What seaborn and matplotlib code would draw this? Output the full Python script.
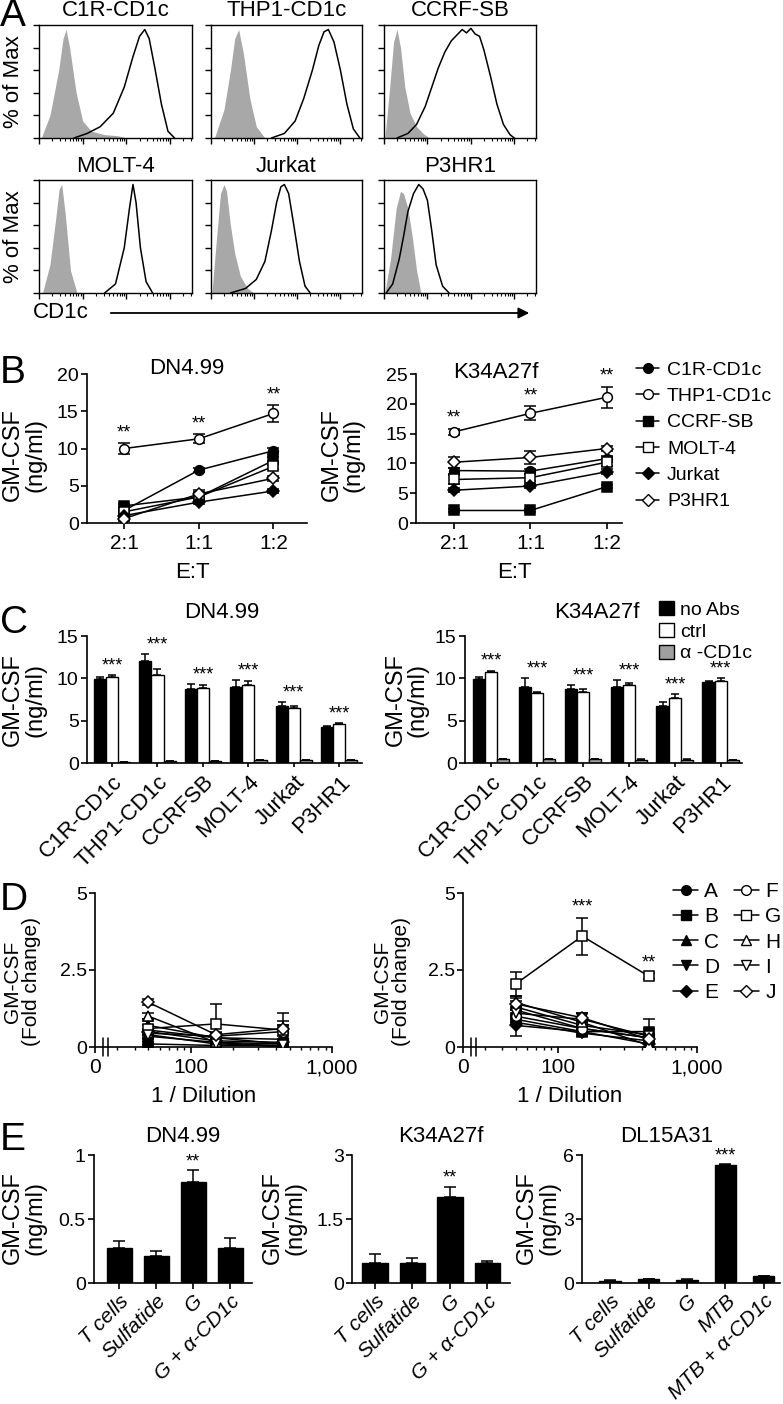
import numpy as np
import pandas as pd
import matplotlib
matplotlib.use('Agg')
import matplotlib.pyplot as plt
import matplotlib.transforms as mtransforms
from matplotlib.lines import Line2D
from matplotlib.patches import Patch
import seaborn as sns

W, H = 783, 1404

# ---------------- A: CD1c staining histograms (x in decades, y in % of max)
hist_titles = ['C1R-CD1c', 'THP1-CD1c', 'CCRF-SB', 'MOLT-4', 'Jurkat', 'P3HR1']

c1r_iso_x = [0.05, 0.25, 0.45, 0.55, 0.62, 0.7, 0.85, 1.0, 1.2, 1.5, 1.8, 2.0]
c1r_iso_y = [0, 20, 60, 88, 96, 80, 40, 15, 6, 3, 2, 0]
c1r_cd1c_x = [0.8, 1.1, 1.4, 1.7, 1.95, 2.15, 2.3, 2.42, 2.52, 2.65, 2.8, 2.95, 3.1]
c1r_cd1c_y = [0, 4, 10, 22, 45, 72, 90, 96, 88, 62, 30, 6, 0]

thp1_iso_x = [0.08, 0.3, 0.45, 0.55, 0.64, 0.75, 0.9, 1.05, 1.25]
thp1_iso_y = [0, 25, 60, 88, 96, 75, 35, 10, 0]
thp1_cd1c_x = [1.4, 1.7, 1.95, 2.15, 2.35, 2.5, 2.62, 2.72, 2.85, 3.0, 3.15, 3.3, 3.45]
thp1_cd1c_y = [0, 4, 15, 35, 60, 82, 94, 96, 85, 60, 30, 8, 0]

ccrf_iso_x = [0.02, 0.12, 0.22, 0.3, 0.38, 0.48, 0.6, 0.75, 0.9, 1.05]
ccrf_iso_y = [0, 40, 85, 96, 80, 45, 22, 10, 4, 0]
ccrf_cd1c_x = [0.3, 0.55, 0.75, 0.95, 1.1, 1.25, 1.4, 1.55, 1.7, 1.8, 1.9, 2.0,
               2.1, 2.2, 2.3, 2.45, 2.6, 2.75, 2.9, 3.0]
ccrf_cd1c_y = [0, 4, 12, 28, 45, 62, 76, 86, 92, 96, 93, 97, 92, 90, 78, 55, 30, 12, 3, 0]

molt_iso_x = [0.08, 0.25, 0.38, 0.46, 0.52, 0.6, 0.72, 0.87]
molt_iso_y = [0, 25, 65, 92, 96, 70, 20, 0]
molt_cd1c_x = [1.5, 1.75, 1.95, 2.07, 2.15, 2.22, 2.32, 2.45, 2.6]
molt_cd1c_y = [0, 8, 40, 75, 96, 80, 40, 10, 0]

jurkat_iso_x = [0.02, 0.12, 0.22, 0.3, 0.36, 0.45, 0.55, 0.68, 0.85, 1.0]
jurkat_iso_y = [0, 45, 88, 96, 90, 60, 35, 15, 4, 0]
jurkat_cd1c_x = [0.45, 0.8, 1.05, 1.25, 1.4, 1.52, 1.62, 1.7, 1.8, 1.92, 2.05, 2.18, 2.3]
jurkat_cd1c_y = [0, 4, 12, 28, 55, 80, 94, 96, 88, 60, 28, 6, 0]

p3hr1_iso_x = [0.02, 0.15, 0.28, 0.38, 0.45, 0.55, 0.65, 0.75, 0.85]
p3hr1_iso_y = [0, 30, 75, 90, 88, 75, 50, 20, 0]
p3hr1_cd1c_x = [0.05, 0.2, 0.35, 0.45, 0.55, 0.68, 0.8, 0.9, 1.0, 1.1, 1.2, 1.35, 1.5]
p3hr1_cd1c_y = [0, 8, 30, 50, 72, 88, 96, 92, 82, 55, 25, 6, 0]

# ---------------- B: GM-CSF vs E:T ratio
et_labels = ['2:1', '1:1', '1:2']
b_names = ['C1R-CD1c', 'THP1-CD1c', 'CCRF-SB', 'MOLT-4', 'Jurkat', 'P3HR1']
b_markers = ['o', 'o', 's', 's', 'D', 'D']
b_filled = [True, False, True, False, True, False]
b1_vals = [[1.7, 7.1, 9.7], [10.0, 11.3, 14.7], [2.3, 3.5, 8.4],
           [1.5, 3.5, 7.6], [1.0, 2.8, 4.3], [0.6, 3.9, 6.0]]
b1_errs = [[0.2, 0.3, 0.4], [0.7, 0.6, 1.1], [0.2, 0.3, 0.4],
           [0.3, 0.3, 0.4], [0.2, 0.3, 0.3], [0.3, 0.5, 0.3]]
b2_vals = [[8.8, 8.7, 10.8], [15.3, 18.4, 21.1], [2.1, 2.1, 6.1],
           [7.3, 7.6, 10.2], [5.5, 6.2, 8.6], [10.2, 11.0, 12.5]]
b2_errs = [[0.5, 0.4, 0.5], [0.5, 1.2, 1.8], [0.2, 0.2, 0.3],
           [0.8, 0.6, 0.6], [0.3, 0.3, 0.4], [0.9, 1.1, 0.4]]

# ---------------- C: blocking with anti-CD1c
c_lines = ['C1R-CD1c', 'THP1-CD1c', 'CCRFSB', 'MOLT-4', 'Jurkat', 'P3HR1']
c_conds = ['no Abs', 'ctrl', 'α -CD1c']
c1_noabs = [9.9, 12.0, 8.7, 9.0, 6.7, 4.3]
c1_noabs_err = [0.3, 0.9, 0.6, 0.8, 0.5, 0.1]
c1_ctrl = [10.2, 10.4, 8.8, 9.2, 6.5, 4.6]
c1_ctrl_err = [0.2, 0.7, 0.4, 0.5, 0.2, 0.1]
c1_anti = [0.1, 0.2, 0.2, 0.3, 0.3, 0.3]
c2_noabs = [9.9, 9.0, 8.7, 9.0, 6.7, 9.6]
c2_noabs_err = [0.2, 1.0, 0.5, 0.8, 0.5, 0.1]
c2_ctrl = [10.7, 8.3, 8.4, 9.2, 7.7, 9.7]
c2_ctrl_err = [0.2, 0.05, 0.3, 0.2, 0.4, 0.3]
c2_anti = [0.5, 0.5, 0.5, 0.4, 0.4, 0.3]

# ---------------- D: lipid fraction titration (fold change)
dilutions = [50, 150, 450]
d_names = ['A', 'B', 'C', 'D', 'E', 'F', 'G', 'H', 'I', 'J']
d_markers = ['o', 's', '^', 'v', 'D', 'o', 's', '^', 'v', 'D']
d_filled = [True, True, True, True, True, False, False, False, False, False]
d1_vals = [[0.55, 0.3, 0.25], [0.1, 0.05, 0.05], [0.7, 0.3, 0.1], [0.35, 0.15, 0.1],
           [0.5, 0.2, 0.15], [0.45, 0.35, 0.5], [0.6, 0.75, 0.55], [1.0, 0.15, 0.0],
           [0.4, 0.1, 0.05], [1.45, 0.4, 0.6]]
d1_errs = [[0.15, 0.1, 0.1], [0.05, 0.05, 0.05], [0.15, 0.1, 0.05], [0.1, 0.05, 0.05],
           [0.1, 0.1, 0.1], [0.1, 0.1, 0.6], [0.3, 0.65, 0.3], [0.1, 0.1, 0.05],
           [0.1, 0.05, 0.05], [0.1, 0.1, 0.1]]
d2_vals = [[1.3, 0.7, 0.4], [0.9, 0.5, 0.5], [1.2, 0.6, 0.3], [0.8, 0.45, 0.2],
           [0.7, 0.5, 0.1], [1.0, 0.6, 0.3], [2.05, 3.6, 2.3], [1.45, 0.8, 0.05],
           [1.1, 0.9, 0.35], [1.4, 0.95, 0.25]]
d2_errs = [[0.2, 0.1, 0.5], [0.1, 0.1, 0.1], [0.2, 0.1, 0.1], [0.1, 0.1, 0.1],
           [0.35, 0.1, 0.1], [0.2, 0.1, 0.1], [0.4, 0.6, 0.1], [0.2, 0.1, 0.05],
           [0.2, 0.2, 0.1], [0.2, 0.15, 0.1]]

# ---------------- E: fraction G response
e1_labels = ['T cells', 'Sulfatide', 'G', 'G + α-CD1c']
e1_vals = [0.27, 0.213, 0.787, 0.27]
e1_errs = [0.055, 0.037, 0.096, 0.08]
e2_labels = ['T cells', 'Sulfatide', 'G', 'G + α-CD1c']
e2_vals = [0.48, 0.47, 2.01, 0.47]
e2_errs = [0.2, 0.11, 0.25, 0.05]
e3_labels = ['T cells', 'Sulfatide', 'G', 'MTB', 'MTB + α-CD1c']
e3_vals = [0.11, 0.19, 0.16, 5.53, 0.31]
e3_errs = [0.01, 0.02, 0.02, 0.04, 0.02]

# ---------------------------------------------------------------- style
sns.set_style('ticks')
plt.rcParams['font.family'] = ['Liberation Sans', 'DejaVu Sans']
plt.rcParams['axes.linewidth'] = 1.2
plt.rcParams['xtick.major.width'] = 1.2
plt.rcParams['ytick.major.width'] = 1.2
plt.rcParams['xtick.major.size'] = 4
plt.rcParams['ytick.major.size'] = 4
plt.rcParams['xtick.labelsize'] = 14
plt.rcParams['ytick.labelsize'] = 14
plt.rcParams['xtick.major.pad'] = 2
plt.rcParams['ytick.major.pad'] = 2
plt.rcParams['text.color'] = 'black'
plt.rcParams['xtick.color'] = 'black'
plt.rcParams['ytick.color'] = 'black'
plt.rcParams['axes.edgecolor'] = 'black'

fig = plt.figure(figsize=(W / 100, H / 100), dpi=100)


def add_ax(l, t, r, b):
    return fig.add_axes([l / W, 1 - b / H, (r - l) / W, (b - t) / H])


def ftext(x, y, s, **kw):
    fig.text(x / W, 1 - y / H, s, **kw)


def prism(ax):
    sns.despine(ax=ax)
    ax.set_xlabel('')
    ax.set_ylabel('')


def stars(ax, x, top, s):
    ax.annotate(s, xy=(x, top), xytext=(0, 1), textcoords='offset points',
                ha='center', va='baseline', fontsize=13)


# panel letters
for letter, y in zip('ABCDE', [16, 373, 623, 900, 1140]):
    ftext(0, y, letter, fontsize=28, ha='left', va='center')

# ---------------------------------------------------------------- A
iso_x = [c1r_iso_x, thp1_iso_x, ccrf_iso_x, molt_iso_x, jurkat_iso_x, p3hr1_iso_x]
iso_y = [c1r_iso_y, thp1_iso_y, ccrf_iso_y, molt_iso_y, jurkat_iso_y, p3hr1_iso_y]
cd1c_x = [c1r_cd1c_x, thp1_cd1c_x, ccrf_cd1c_x, molt_cd1c_x, jurkat_cd1c_x, p3hr1_cd1c_x]
cd1c_y = [c1r_cd1c_y, thp1_cd1c_y, ccrf_cd1c_y, molt_cd1c_y, jurkat_cd1c_y, p3hr1_cd1c_y]
cols = [(39, 192), (211, 362), (384, 536)]
rows = [(25, 138), (180, 293)]
minor = [d + np.log10(k) for d in range(4) for k in range(2, 10) if d + np.log10(k) < 3.5]
for i in range(6):
    l, r = cols[i % 3]
    t, b = rows[i // 3]
    ax = add_ax(l, t, r, b)
    ax.fill_between(iso_x[i], iso_y[i], color='#a8a8a8', lw=0)
    sns.lineplot(x=cd1c_x[i], y=cd1c_y[i], ax=ax, color='black', lw=1.1, sort=False)
    ax.set_xlim(0, 3.5)
    ax.set_ylim(0, 100)
    ax.set_xticks([0, 1, 2, 3])
    ax.set_xticks(minor, minor=True)
    ax.set_yticks(range(0, 101, 20))
    ax.tick_params(labelbottom=False, labelleft=False, length=4, width=1)
    ax.tick_params(which='minor', length=2, width=0.8, bottom=True)
    for sp in ax.spines.values():
        sp.set_linewidth(1.0)
    ax.set_xlabel('')
    ax.set_ylabel('')
    ftext((l + r) / 2, 10 if i < 3 else 166, hist_titles[i], fontsize=16,
          ha='center', va='center')
for t, b in rows:
    ftext(14, (t + b) / 2, '% of Max', fontsize=16, rotation=90, ha='center', va='center')
ftext(33, 313, 'CD1c', fontsize=16, ha='left', va='center')
fig.add_artist(matplotlib.patches.FancyArrowPatch(
    (108 / W, 1 - 313 / H), (532 / W, 1 - 313 / H), transform=fig.transFigure,
    arrowstyle='-|>', mutation_scale=16, lw=1.3, color='black'))

# ---------------------------------------------------------------- B


def draw_series(ax, x, vals, errs, markers, filled, ms=7):
    for v, e, m, f in zip(vals, errs, markers, filled):
        ax.errorbar(x, v, yerr=e, fmt='none', ecolor='black', elinewidth=1.1,
                    capsize=4, capthick=1.1, zorder=2)
        sns.lineplot(x=x, y=v, ax=ax, color='black', lw=1.1, marker=m,
                     ms=ms - 1 if m == 'D' else ms,
                     markerfacecolor='black' if f else 'white',
                     markeredgecolor='black', markeredgewidth=1.1, zorder=3)


b_x = [0, 1, 2]
for (l, t, r, b), vals, errs, top, title, tpos in [
        ((87, 374, 307, 523), b1_vals, b1_errs, 20, 'DN4.99', (187, 368)),
        ((416, 374, 622, 523), b2_vals, b2_errs, 25, 'K34A27f', (496, 372))]:
    ax = add_ax(l, t, r, b)
    draw_series(ax, b_x, vals, errs, b_markers, b_filled)
    ax.set_xlim(-0.5, 2.45 if top == 20 else 2.2)
    ax.set_ylim(0, top)
    ax.set_yticks(range(0, top + 1, 5))
    ax.set_xticks(b_x)
    ax.set_xticklabels(et_labels, fontsize=15)
    ax.tick_params(axis='x', pad=4)
    prism(ax)
    thp = 1
    for xi in b_x:
        stars(ax, xi, vals[thp][xi] + errs[thp][xi] + top * 0.03, '**')
    ftext(tpos[0], tpos[1], title, fontsize=16, ha='center', va='center')
    ftext((l + r) / 2 - 5, 573, 'E:T', fontsize=16, ha='center', va='center')
    ftext(l - 63 if top == 20 else l - 73, 455, 'GM-CSF\n(ng/ml)', fontsize=17,
          rotation=90, ha='center', va='center', linespacing=1.0)

b_handles = [Line2D([0], [0], color='black', lw=1.1, marker=m,
                    ms=6 if m == 'D' else 7,
                    markerfacecolor='black' if f else 'white', markeredgecolor='black')
             for m, f in zip(b_markers, b_filled)]
fig.legend(b_handles, b_names, loc='upper left', bbox_to_anchor=(636 / W, 1 - 361 / H),
           frameon=False, fontsize=14, handlelength=1.2, handletextpad=0.4,
           labelspacing=0.45, borderpad=0, borderaxespad=0)

# ---------------------------------------------------------------- C
c_colors = ['black', 'white', '#a0a0a0']
for (l, t, r, b), series, xl, title, tx in [
        ((87, 636, 362, 763), (c1_noabs, c1_ctrl, c1_anti, c1_noabs_err, c1_ctrl_err),
         (-0.55, 5.5), 'DN4.99', 222),
        ((465, 636, 742, 763), (c2_noabs, c2_ctrl, c2_anti, c2_noabs_err, c2_ctrl_err),
         (-0.565, 5.46), 'K34A27f', 597)]:
    noabs, ctrl, anti, e_noabs, e_ctrl = series
    df = pd.DataFrame({'line': c_lines * 3,
                       'cond': np.repeat(c_conds, len(c_lines)),
                       'val': noabs + ctrl + anti})
    ax = add_ax(l, t, r, b)
    sns.barplot(data=df, x='line', y='val', hue='cond', order=c_lines, hue_order=c_conds,
                palette=c_colors, saturation=1, edgecolor='black', linewidth=1,
                width=0.8, errorbar=None, legend=False, ax=ax)
    errs = [e_noabs, e_ctrl, [0.02] * 6]
    tops = np.zeros(6)
    for cont, e in zip(ax.containers, errs):
        xs = [p.get_x() + p.get_width() / 2 for p in cont.patches]
        hs = [p.get_height() for p in cont.patches]
        ax.errorbar(xs, hs, yerr=[np.zeros(6), e], fmt='none', ecolor='black',
                    elinewidth=1.1, capsize=3, capthick=1.1)
        tops = np.maximum(tops, np.array(hs) + np.array(e))
    for i in range(6):
        stars(ax, i, tops[i] + 0.4, '***')
    ax.set_xlim(*xl)
    ax.set_ylim(0, 15)
    ax.set_yticks([0, 5, 10, 15])
    ax.set_xticks(range(6))
    ax.set_xticklabels(c_lines, rotation=45, ha='right', rotation_mode='anchor', fontsize=16)
    ax.tick_params(axis='x', length=3, pad=3)
    prism(ax)
    ftext(tx, 612, title, fontsize=16, ha='center', va='center')
    ftext(24 if l < 200 else 407, 700, 'GM-CSF\n(ng/ml)', fontsize=17, rotation=90,
          ha='center', va='center', linespacing=1.0)

c_handles = [Patch(facecolor=c, edgecolor='black', lw=1) for c in c_colors]
fig.legend(c_handles, c_conds, loc='upper left', bbox_to_anchor=(659 / W, 1 - 601 / H),
           frameon=False, fontsize=14, handlelength=0.75, handleheight=0.75,
           handletextpad=0.35, labelspacing=0.2, borderpad=0, borderaxespad=0)

# ---------------------------------------------------------------- D
d_x = np.log10(dilutions)
d_minor = [np.log10(k * 10) for k in range(3, 10)] + [np.log10(k * 100) for k in range(2, 10)]
for (l, t, r, b), vals, errs, lab_x in [((95, 893, 332, 1047), d1_vals, d1_errs, 22),
                                        ((463, 893, 697, 1047), d2_vals, d2_errs, 392)]:
    ax = add_ax(l, t, r, b)
    draw_series(ax, d_x, vals, errs, d_markers, d_filled, ms=7)
    x0 = 1.32
    ax.set_xlim(x0, 3.0)
    ax.set_ylim(0, 5)
    ax.set_yticks([0, 2.5, 5])
    ax.set_yticklabels(['0', '2.5', '5'])
    ax.set_xticks([x0, 2, 3])
    ax.set_xticklabels(['0', '100', '1,000'], fontsize=15)
    ax.set_xticks(d_minor, minor=True)
    ax.tick_params(which='minor', axis='x', length=2.5, width=1, bottom=True)
    ax.tick_params(axis='x', pad=4)
    prism(ax)
    trans = mtransforms.blended_transform_factory(ax.transData, ax.transAxes)
    for bx in (1.375, 1.41):
        ax.plot([bx, bx], [-0.06, 0.06], color='black', lw=1.1, transform=trans,
                clip_on=False)
    ftext((l + r) / 2 - 10, 1097, '1 / Dilution', fontsize=16, ha='center', va='center')
    ftext(lab_x, 982, 'GM-CSF\n(Fold change)', fontsize=15, rotation=90,
          ha='center', va='center', linespacing=1.0)
    if vals is d2_vals:
        g = d_names.index('G')
        stars(ax, d_x[1], vals[g][1] + errs[g][1] + 0.15, '***')
        stars(ax, d_x[2], vals[g][2] + errs[g][2] + 0.15, '**')

d_handles = [Line2D([0], [0], color='black', lw=1.1, marker=m,
                    ms=6 if m == 'D' else 7,
                    markerfacecolor='black' if f else 'white', markeredgecolor='black')
             for m, f in zip(d_markers, d_filled)]
fig.legend(d_handles, d_names, loc='upper left', bbox_to_anchor=(673 / W, 1 - 882 / H),
           ncol=2, frameon=False, fontsize=15, handlelength=1.2, handletextpad=0.3,
           labelspacing=0.3, columnspacing=0.7, borderpad=0, borderaxespad=0)

# ---------------------------------------------------------------- E
for (l, t, r, b), labels, vals, errs, top, yt, width, xl, title, tx, lab_x, star in [
        ((94, 1155, 252, 1283), e1_labels, e1_vals, e1_errs, 1, ['0', '0.5', '1'], 0.68,
         (-0.68, 3.59), 'DN4.99', 183, 24, (2, '**')),
        ((352, 1155, 510, 1283), e2_labels, e2_vals, e2_errs, 3, ['0', '1.5', '3'], 0.68,
         (-0.61, 3.6), 'K34A27f', 441, 284, (2, '**')),
        ((582, 1155, 780, 1283), e3_labels, e3_vals, e3_errs, 6, ['0', '3', '6'], 0.55,
         (-0.73, 4.42), 'DL15A31', 667, 538, (3, '***'))]:
    ax = add_ax(l, t, r, b)
    sns.barplot(x=labels, y=vals, color='black', saturation=1, width=width,
                edgecolor='black', errorbar=None, ax=ax)
    ax.errorbar(range(len(vals)), vals, yerr=[np.zeros(len(vals)), errs], fmt='none',
                ecolor='black', elinewidth=1.1, capsize=4, capthick=1.1)
    si, s = star
    stars(ax, si, vals[si] + errs[si] + top * 0.02, s)
    ax.set_xlim(*xl)
    ax.set_ylim(0, top)
    ax.set_yticks([0, top / 2, top])
    ax.set_yticklabels(yt)
    ax.set_xticks(range(len(labels)))
    ax.set_xticklabels(labels, rotation=45, ha='right', rotation_mode='anchor',
                       fontsize=15, style='italic')
    prism(ax)
    ftext(tx, 1137, title, fontsize=16, ha='center', va='center')
    ftext(lab_x, 1218, 'GM-CSF\n(ng/ml)', fontsize=17, rotation=90,
          ha='center', va='center', linespacing=1.0)

fig.savefig('out.png', dpi=100)
